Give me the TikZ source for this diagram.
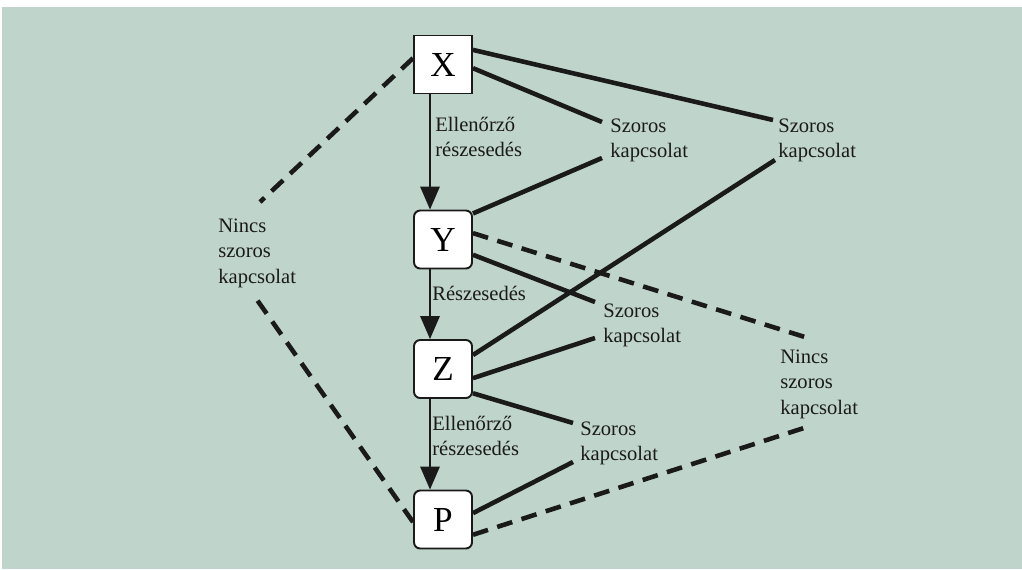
\documentclass[tikz,border=0pt]{standalone}
\usepackage{fontspec}
\setmainfont{Liberation Serif}
\usetikzlibrary{arrows.meta,calc}
\definecolor{hatter}{HTML}{BFD4CB}
\definecolor{vonal}{HTML}{1A1A1A}
\tikzset{
  doboz/.style={draw=vonal,fill=white,line width=1.1pt,minimum size=1.16cm,inner sep=0pt,
    rounded corners=3.5pt,font=\fontsize{20}{24}\selectfont},
  cimke/.style={align=left,inner sep=0pt,anchor=base west,text=vonal,
    font=\fontsize{11.7}{14.5}\selectfont},
  kapcs/.style={line width=2.6pt,draw=vonal},
  nincs/.style={kapcs,dash pattern=on 9pt off 5.5pt},
  nyil/.style={line width=1pt,draw=vonal,-{Triangle[width=11pt,length=13pt]}}
}
\begin{document}
\begin{tikzpicture}[x=0.02cm,y=-0.02cm]
% hatter
\fill[hatter] (2,7) rectangle (1022,569);
\useasboundingbox (0,0) rectangle (1022,569);

% dobozok
\node[doboz,sharp corners] (X) at (443,64.5) {X};
\node[doboz] (Y) at (443,239.5) {Y};
\node[doboz] (Z) at (443,369) {Z};
\node[doboz] (P) at (443,519.5) {P};

% feliratok (az utolso sor alapvonalan)
\node[cimke] (ell1) at (435,156.5) {Ellenőrző\\részesedés};
\node[cimke] (resz) at (432,300) {Részesedés};
\node[cimke] (ell2) at (432,455.5) {Ellenőrző\\részesedés};
\node[cimke] (sz1) at (610,157.5) {Szoros\\kapcsolat};
\node[cimke] (sz2) at (778,157.5) {Szoros\\kapcsolat};
\node[cimke] (sz3) at (603,342.5) {Szoros\\kapcsolat};
\node[cimke] (sz4) at (580,460.5) {Szoros\\kapcsolat};
\node[cimke] (nsz1) at (218,283) {Nincs\\szoros\\kapcsolat};
\node[cimke] (nsz2) at (780,414) {Nincs\\szoros\\kapcsolat};

% nyilak (kicsit balra a kozeptol)
\foreach \a/\b in {X/Y,Y/Z,Z/P}
  \draw[nyil] ($(\a.south)+(-13,0)$) -- ($(\b.north)+(-13,0)$);

% szoros kapcsolatok
\draw[kapcs] (X.-7) -- ($(sz1.base west)+(-8,-35.5)$);
\draw[kapcs] (Y.41) -- ($(sz1.base west)+(-8,0.5)$);
\draw[kapcs] (X.26) -- ($(sz2.base west)+(-5,-37.5)$);
\draw[kapcs] (Z.25) -- ($(sz2.base west)+(-3,2.5)$);
\draw[kapcs] (Y.-27) -- ($(sz3.base west)+(-8,-40.5)$);
\draw[kapcs] (Z.-17) -- ($(sz3.base west)+(-8,-4.5)$);
\draw[kapcs] (Z.-39) -- ($(sz4.base west)+(-7,-37.5)$);
\draw[kapcs] (P.12) -- ($(sz4.base west)+(-7,1.5)$);

% nincs szoros kapcsolat
\draw[nincs] (X.168) -- ($(nsz1.base west)+(42,-81)$);
\draw[nincs] (P.185) -- ($(nsz1.base west)+(37,14)$);
\draw[nincs] (Y.12) -- ($(nsz2.base west)+(28,-76)$);
\draw[nincs] (P.-27) -- ($(nsz2.base west)+(27,13)$);
\end{tikzpicture}
\end{document}
